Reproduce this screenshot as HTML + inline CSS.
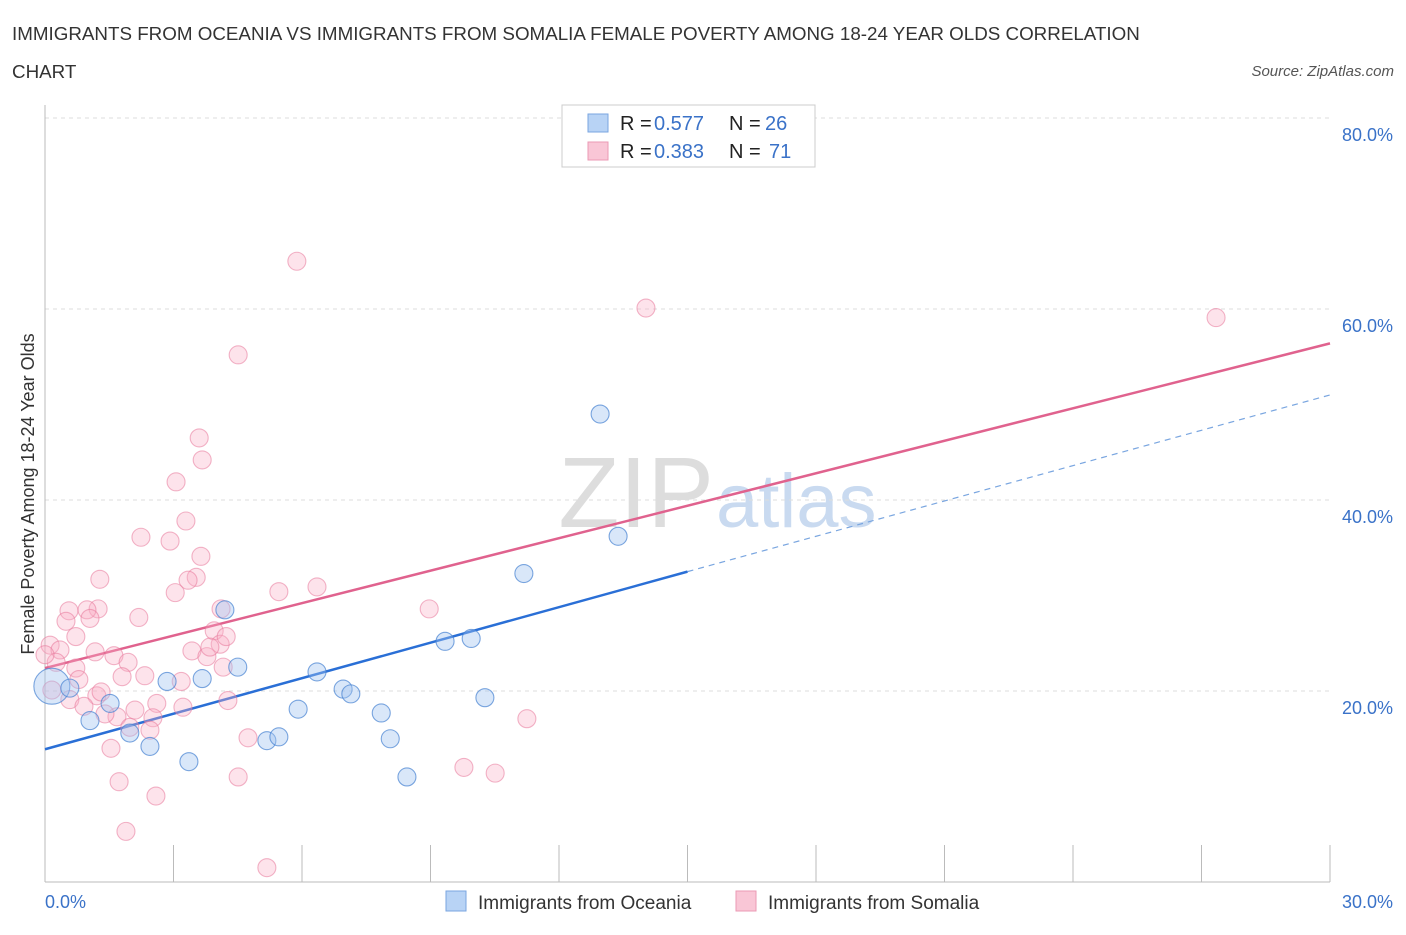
<!DOCTYPE html>
<html><head><meta charset="utf-8"><style>
body{margin:0;background:#fff;font-family:"Liberation Sans",sans-serif;}
svg text{font-family:"Liberation Sans",sans-serif;}
</style></head><body>
<svg id="chart" width="1406" height="930">
<text x="12" y="40" font-size="18.8" fill="#333">IMMIGRANTS FROM OCEANIA VS IMMIGRANTS FROM SOMALIA FEMALE POVERTY AMONG 18-24 YEAR OLDS CORRELATION</text>
<text x="12" y="78" font-size="18.8" fill="#333">CHART</text>
<text x="1394" y="76" font-size="15" fill="#555" font-style="italic" text-anchor="end">Source: ZipAtlas.com</text>
<text x="714" y="527" font-size="100" fill="#ddd" text-anchor="end" font-family="Liberation Serif">ZIP</text>
<text x="716" y="527" font-size="76" fill="#c9daf0">atlas</text>
<g id="grid"></g>
<g id="axes"></g>
<g id="lines"></g>
<g id="pts"></g>
<text transform="translate(34,494) rotate(-90)" font-size="18" fill="#333" text-anchor="middle">Female Poverty Among 18-24 Year Olds</text>
<text x="45" y="908" font-size="18" fill="#3a72c8">0.0%</text>
<text x="1393" y="908" font-size="18" fill="#3a72c8" text-anchor="end">30.0%</text>
<g>
<rect x="562" y="105" width="253" height="62" fill="#fff" stroke="#ccc"/>
<rect x="588" y="114" width="20" height="18" fill="#b8d3f5" stroke="#7aa6e0"/>
<rect x="588" y="142" width="20" height="18" fill="#f9c6d6" stroke="#eb9ab4"/>
<text x="620" y="130" font-size="20" fill="#222">R =</text>
<text x="654" y="130" font-size="20" fill="#3a72c8">0.577</text>
<text x="729" y="130" font-size="20" fill="#222">N =</text>
<text x="765" y="130" font-size="20" fill="#3a72c8">26</text>
<text x="620" y="158" font-size="20" fill="#222">R =</text>
<text x="654" y="158" font-size="20" fill="#3a72c8">0.383</text>
<text x="729" y="158" font-size="20" fill="#222">N =</text>
<text x="769" y="158" font-size="20" fill="#3a72c8">71</text>
</g>
<g>
<rect x="446" y="891" width="20" height="20" fill="#b8d3f5" stroke="#7aa6e0"/>
<text x="478" y="909" font-size="19" fill="#333">Immigrants from Oceania</text>
<rect x="736" y="891" width="20" height="20" fill="#f9c6d6" stroke="#eb9ab4"/>
<text x="768" y="909" font-size="19" fill="#333">Immigrants from Somalia</text>
</g>
</svg>
<script>
const yTicks=[20,40,60,80];
const xTicks=[0,3,6,9,12,15,18,21,24,27,30];
const blueX=[0.16,0.58,1.05,1.52,1.98,2.45,2.85,3.36,3.67,4.20,4.50,5.18,5.46,5.91,6.35,6.96,7.14,7.85,8.06,8.45,9.34,9.95,10.27,11.18,12.96,13.38];
const blueY=[20.5,20.3,16.9,18.7,15.6,14.2,21.0,12.6,21.3,28.5,22.5,14.8,15.2,18.1,22.0,20.2,19.7,17.7,15.0,11.0,25.2,25.5,19.3,32.3,49.0,36.2];
const pinkX=[5.88,14.03,27.34,4.51,3.60,3.67,3.06,3.29,2.24,2.92,3.64,3.53,3.34,3.04,1.28,0.56,1.24,0.98,1.05,0.49,2.19,5.46,6.35,8.97,4.11,3.95,4.09,0.72,0.12,0.35,1.17,1.61,3.43,3.78,0.26,0.72,1.94,4.16,0.79,2.33,3.18,1.80,1.21,1.31,0.58,0.91,2.61,3.22,1.68,1.40,2.10,4.27,2.52,1.98,2.45,4.74,1.54,11.25,1.73,2.59,4.51,9.78,10.51,1.89,5.18,0.16,0.0,4.23,3.85];
const pinkY=[65.0,60.1,59.1,55.2,46.5,44.2,41.9,37.8,36.1,35.7,34.1,31.9,31.6,30.3,31.7,28.4,28.6,28.5,27.6,27.3,27.7,30.4,30.9,28.6,28.6,26.3,24.9,25.7,24.8,24.3,24.1,23.7,24.2,23.6,23.0,22.4,23.0,22.5,21.2,21.6,21.0,21.5,19.5,19.9,19.1,18.4,18.7,18.3,17.3,17.6,18.0,19.0,17.2,16.2,15.9,15.1,14.0,17.1,10.5,9.0,11.0,12.0,11.4,5.3,1.5,20.1,23.8,25.7,24.6];
const blueLine=[13.9,32.5,51.0];
const pinkLine=[22.4,56.4];
const NS='http://www.w3.org/2000/svg';
const X=v=>45+v*(1285/30), Y=v=>882-v*9.55;
function mk(tag,attrs,parent){const e=document.createElementNS(NS,tag);for(const k in attrs)e.setAttribute(k,attrs[k]);document.getElementById(parent).appendChild(e);return e;}
yTicks.forEach(t=>{
 const l=mk('line',{x1:45,x2:1330,y1:Y(t),y2:Y(t),stroke:'#ddd','stroke-dasharray':'4,4'},'grid');
 
 
 const tx=mk('text',{x:1393,y:Y(t)+23,'font-size':18,fill:'#3a72c8','text-anchor':'end'},'grid');
 tx.textContent=t.toFixed(1)+'%';
 
 
});
mk('line',{x1:45,x2:45,y1:105,y2:882,stroke:'#bbb'},'axes');
const xa=mk('line',{x1:45,x2:1330,y1:882,y2:882,stroke:'#bbb'},'axes');


xTicks.forEach(t=>{const k=mk('line',{x1:X(t),x2:X(t),y1:845,y2:882,stroke:'#bbb'},'axes');
 
 });
function dot(x,y,r,fill,stroke,name){const c=mk('circle',{cx:X(x),cy:Y(y),r:r,fill:fill,stroke:stroke,'stroke-width':1.1},'pts');
 
 }
pinkX.forEach((x,i)=>dot(x,pinkY[i],9,'rgba(248,176,198,0.35)','rgba(232,120,155,0.55)','somalia-point'));
blueX.forEach((x,i)=>dot(x,blueY[i],i===0?18:9,'rgba(160,196,240,0.4)','rgba(70,130,210,0.7)','oceania-point'));
const pl=mk('line',{x1:X(0),y1:Y(pinkLine[0]),x2:X(30),y2:Y(pinkLine[1]),stroke:'#e0628e','stroke-width':2.5},'lines');


const bl=mk('line',{x1:X(0),y1:Y(blueLine[0]),x2:X(15),y2:Y(blueLine[1]),stroke:'#2a6fd6','stroke-width':2.5},'lines');


const bd=mk('line',{x1:X(15),y1:Y(blueLine[1]),x2:X(30),y2:Y(blueLine[2]),stroke:'#7aa6e0','stroke-width':1.2,'stroke-dasharray':'6,5'},'lines');


</script>
</body></html>
